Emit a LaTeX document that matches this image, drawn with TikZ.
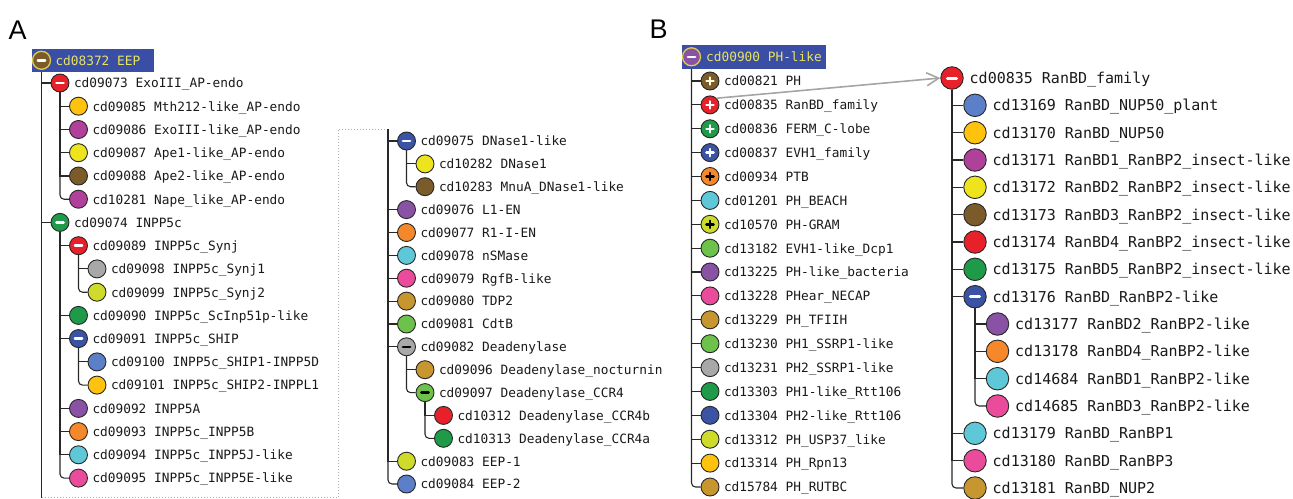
\documentclass[tikz,border=0pt]{standalone}
\usepackage{fontspec}
\setmainfont{Liberation Sans}
\newfontfamily\monof{DejaVu Sans Mono}
\usetikzlibrary{arrows.meta}
\pgfdeclarelayer{bg}
\pgfsetlayers{bg,main}
\definecolor{cRed}{RGB}{232,32,42}
\definecolor{cGold}{RGB}{255,194,14}
\definecolor{cMag}{RGB}{176,64,154}
\definecolor{cYel}{RGB}{238,228,30}
\definecolor{cBrn}{RGB}{123,91,42}
\definecolor{cGrn}{RGB}{30,154,72}
\definecolor{cGry}{RGB}{168,168,168}
\definecolor{cYG}{RGB}{206,219,42}
\definecolor{cBlu}{RGB}{58,83,164}
\definecolor{cLBl}{RGB}{91,127,200}
\definecolor{cPur}{RGB}{138,82,164}
\definecolor{cOra}{RGB}{245,136,42}
\definecolor{cCya}{RGB}{95,200,216}
\definecolor{cPnk}{RGB}{234,75,154}
\definecolor{cTan}{RGB}{200,150,46}
\definecolor{cLGr}{RGB}{108,194,74}
\definecolor{hdrBlue}{RGB}{58,78,165}
\definecolor{hdrText}{RGB}{232,228,96}
\definecolor{hdrRing}{RGB}{222,204,80}
\definecolor{lineC}{RGB}{40,40,40}
\definecolor{arrC}{RGB}{165,165,165}
\definecolor{dotC}{RGB}{175,175,175}
\tikzset{
  dA/.style={circle,draw=lineC,line width=0.9pt,minimum size=18pt,inner sep=0pt},
  dB/.style={circle,draw=lineC,line width=0.9pt,minimum size=22.5pt,inner sep=0pt},
  hdot/.style={circle,draw=hdrRing,line width=1.3pt,minimum size=18pt,inner sep=0pt},
  lA/.style={anchor=base west,inner sep=0pt,text=black!90,font=\monof\fontsize{12.8}{14}\selectfont},
  lB/.style={anchor=base west,inner sep=0pt,text=black!90,font=\monof\fontsize{15}{17}\selectfont},
  hlbl/.style={anchor=base west,inner sep=0pt,text=hdrText,font=\monof\fontsize{12.8}{14}\selectfont},
  hbox/.style={fill=hdrBlue,inner sep=0pt,anchor=north west},
  mw/.style={path picture={\draw[white,line width=2.6pt,line cap=round]
      ([xshift=-3.6pt]path picture bounding box.center)--([xshift=3.6pt]path picture bounding box.center);}},
  mk/.style={path picture={\draw[black,line width=2.6pt,line cap=round]
      ([xshift=-3.6pt]path picture bounding box.center)--([xshift=3.6pt]path picture bounding box.center);}},
  mwb/.style={path picture={\draw[white,line width=3pt,line cap=round]
      ([xshift=-4.6pt]path picture bounding box.center)--([xshift=4.6pt]path picture bounding box.center);}},
  pw/.style={path picture={\draw[white,line width=2.4pt,line cap=round]
      ([xshift=-3.6pt]path picture bounding box.center)--([xshift=3.6pt]path picture bounding box.center)
      ([yshift=-3.6pt]path picture bounding box.center)--([yshift=3.6pt]path picture bounding box.center);}},
  pc/.style={path picture={\draw[white!85!yellow,line width=2.4pt,line cap=round]
      ([xshift=-3.6pt]path picture bounding box.center)--([xshift=3.6pt]path picture bounding box.center)
      ([yshift=-3.6pt]path picture bounding box.center)--([yshift=3.6pt]path picture bounding box.center);}},
  pk/.style={path picture={\draw[black,line width=2.4pt,line cap=round]
      ([xshift=-3.6pt]path picture bounding box.center)--([xshift=3.6pt]path picture bounding box.center)
      ([yshift=-3.6pt]path picture bounding box.center)--([yshift=3.6pt]path picture bounding box.center);}},
  tl/.style={draw=lineC,line width=1.1pt},
  tlast/.style={draw=lineC,line width=1.1pt,rounded corners=4pt},
  dotframe/.style={draw=dotC,line width=1pt,dotted},
  conn/.style={draw=arrC,line width=1.6pt,-{Straight Barb[length=12pt,width=13pt,line width=1.6pt]}}
}
\newcommand\nA[6][]{\node[dA,fill=#3,#1] (#2) at (#4,#5) {};
  \node[lA] (#2t) at ([xshift=13.8pt,yshift=-4.8pt]#2.center) {#6};}
\newcommand\nB[6][]{\node[dB,fill=#3,#1] (#2) at (#4,#5) {};
  \node[lB] (#2t) at ([xshift=17.5pt,yshift=-5.5pt]#2.center) {#6};}
\begin{document}
\begin{tikzpicture}[x=1pt,y=-1pt]
\useasboundingbox (0,0) rectangle (1293,498);
% panel letters
\node[anchor=base west,inner sep=0pt,font=\fontsize{27}{30}\selectfont] (lblA) at (8.5,39.3) {A};
\node[anchor=base west,inner sep=0pt,font=\fontsize{27}{30}\selectfont] (lblB) at (649.5,38.3) {B};
% ===== Panel A header
\node[hbox,minimum width=122pt,minimum height=23.5pt] (hboxA) at (32,48.5) {};
\node[hdot,fill=cBrn,mw] (hA) at (41.5,60.3) {};
\node[hlbl] (hAt) at ([xshift=13.8pt,yshift=-4.8pt]hA.center) {cd08372 EEP};
% ===== Panel A left column
\nA[mw]{a09073}{cRed}{60}{83}{cd09073 ExoIII\_AP-endo}
\nA{a09085}{cGold}{78.5}{106.2}{cd09085 Mth212-like\_AP-endo}
\nA{a09086}{cMag}{78.5}{129.5}{cd09086 ExoIII-like\_AP-endo}
\nA{a09087}{cYel}{78.5}{152.7}{cd09087 Ape1-like\_AP-endo}
\nA{a09088}{cBrn}{78.5}{176}{cd09088 Ape2-like\_AP-endo}
\nA{a10281}{cMag}{78.5}{199.2}{cd10281 Nape\_like\_AP-endo}
\nA[mw]{a09074}{cGrn}{60}{222.4}{cd09074 INPP5c}
\nA[mw]{a09089}{cRed}{78.5}{245.7}{cd09089 INPP5c\_Synj}
\nA{a09098}{cGry}{97}{268.9}{cd09098 INPP5c\_Synj1}
\nA{a09099}{cYG}{97}{292.2}{cd09099 INPP5c\_Synj2}
\nA{a09090}{cGrn}{78.5}{315.4}{cd09090 INPP5c\_ScInp51p-like}
\nA[mw]{a09091}{cBlu}{78.5}{338.6}{cd09091 INPP5c\_SHIP}
\nA{a09100}{cLBl}{97}{361.9}{cd09100 INPP5c\_SHIP1-INPP5D}
\nA{a09101}{cGold}{97}{385.1}{cd09101 INPP5c\_SHIP2-INPPL1}
\nA{a09092}{cPur}{78.5}{408.4}{cd09092 INPP5A}
\nA{a09093}{cOra}{78.5}{431.6}{cd09093 INPP5c\_INPP5B}
\nA{a09094}{cCya}{78.5}{454.8}{cd09094 INPP5c\_INPP5J-like}
\nA{a09095}{cPnk}{78.5}{478.1}{cd09095 INPP5c\_INPP5E-like}
% ===== Panel A right column
\coordinate (Atop) at (388,129);
\coordinate (Acorner) at (338,129);
\coordinate (Acorner2) at (338,497.5);
\coordinate (Abot) at (41.5,497.5);
\nA[mw]{a09075}{cBlu}{406.5}{141}{cd09075 DNase1-like}
\nA{a10282}{cYel}{425}{163.9}{cd10282 DNase1}
\nA{a10283}{cBrn}{425}{186.7}{cd10283 MnuA\_DNase1-like}
\nA{a09076}{cPur}{406.5}{209.6}{cd09076 L1-EN}
\nA{a09077}{cOra}{406.5}{232.5}{cd09077 R1-I-EN}
\nA{a09078}{cCya}{406.5}{255.4}{cd09078 nSMase}
\nA{a09079}{cPnk}{406.5}{278.2}{cd09079 RgfB-like}
\nA{a09080}{cTan}{406.5}{301.1}{cd09080 TDP2}
\nA{a09081}{cLGr}{406.5}{324}{cd09081 CdtB}
\nA[mk]{a09082}{cGry}{406.5}{346.8}{cd09082 Deadenylase}
\nA{a09096}{cTan}{425}{369.7}{cd09096 Deadenylase\_nocturnin}
\nA[mk]{a09097}{cLGr}{425}{392.6}{cd09097 Deadenylase\_CCR4}
\nA{a10312}{cRed}{443.5}{415.4}{cd10312 Deadenylase\_CCR4b}
\nA{a10313}{cGrn}{443.5}{438.3}{cd10313 Deadenylase\_CCR4a}
\nA{a09083}{cYG}{406.5}{461.2}{cd09083 EEP-1}
\nA{a09084}{cLBl}{406.5}{484}{cd09084 EEP-2}
% ===== Panel B header
\node[hbox,minimum width=144pt,minimum height=23.5pt] (hboxB) at (682,45) {};
\node[hdot,fill=cPur,mw] (hB) at (691.5,56.8) {};
\node[hlbl] (hBt) at ([xshift=14.5pt,yshift=-4.8pt]hB.center) {cd00900 PH-like};
% ===== Panel B left column
\nA[pc]{b00821}{cBrn}{710}{81}{cd00821 PH}
\nA[pw]{b00835}{cRed}{710}{104.9}{cd00835 RanBD\_family}
\nA[pw]{b00836}{cGrn}{710}{128.8}{cd00836 FERM\_C-lobe}
\nA[pw]{b00837}{cBlu}{710}{152.6}{cd00837 EVH1\_family}
\nA[pk]{b00934}{cOra}{710}{176.5}{cd00934 PTB}
\nA{b01201}{cCya}{710}{200.4}{cd01201 PH\_BEACH}
\nA[pk]{b10570}{cYG}{710}{224.3}{cd10570 PH-GRAM}
\nA{b13182}{cLGr}{710}{248.2}{cd13182 EVH1-like\_Dcp1}
\nA{b13225}{cPur}{710}{272}{cd13225 PH-like\_bacteria}
\nA{b13228}{cPnk}{710}{295.9}{cd13228 PHear\_NECAP}
\nA{b13229}{cTan}{710}{319.8}{cd13229 PH\_TFIIH}
\nA{b13230}{cLGr}{710}{343.7}{cd13230 PH1\_SSRP1-like}
\nA{b13231}{cGry}{710}{367.6}{cd13231 PH2\_SSRP1-like}
\nA{b13303}{cGrn}{710}{391.4}{cd13303 PH1-like\_Rtt106}
\nA{b13304}{cBlu}{710}{415.3}{cd13304 PH2-like\_Rtt106}
\nA{b13312}{cYG}{710}{439.2}{cd13312 PH\_USP37\_like}
\nA{b13314}{cGold}{710}{463.1}{cd13314 PH\_Rpn13}
\nA{b15784}{cTan}{710}{487}{cd15784 PH\_RUTBC}
% ===== Panel B right tree
\nB[mwb]{r00835}{cRed}{952}{78}{cd00835 RanBD\_family}
\nB{r13169}{cLBl}{975}{105.3}{cd13169 RanBD\_NUP50\_plant}
\nB{r13170}{cGold}{975}{132.7}{cd13170 RanBD\_NUP50}
\nB{r13171}{cMag}{975}{160}{cd13171 RanBD1\_RanBP2\_insect-like}
\nB{r13172}{cYel}{975}{187.3}{cd13172 RanBD2\_RanBP2\_insect-like}
\nB{r13173}{cBrn}{975}{214.7}{cd13173 RanBD3\_RanBP2\_insect-like}
\nB{r13174}{cRed}{975}{242}{cd13174 RanBD4\_RanBP2\_insect-like}
\nB{r13175}{cGrn}{975}{269.3}{cd13175 RanBD5\_RanBP2\_insect-like}
\nB[mwb]{r13176}{cBlu}{975}{296.7}{cd13176 RanBD\_RanBP2-like}
\nB{r13177}{cPur}{997.5}{324}{cd13177 RanBD2\_RanBP2-like}
\nB{r13178}{cOra}{997.5}{351.3}{cd13178 RanBD4\_RanBP2-like}
\nB{r14684}{cCya}{997.5}{378.7}{cd14684 RanBD1\_RanBP2-like}
\nB{r14685}{cPnk}{997.5}{406}{cd14685 RanBD3\_RanBP2-like}
\nB{r13179}{cCya}{975}{433.3}{cd13179 RanBD\_RanBP1}
\nB{r13180}{cPnk}{975}{460.7}{cd13180 RanBD\_RanBP3}
\nB{r13181}{cTan}{975}{488}{cd13181 RanBD\_NUP2}
% ===== connectors
\begin{pgfonlayer}{bg}
% panel A main
\draw[tl] (hA.south) -- (Abot);
\draw[tl] (hA.south) |- (a09073.west);
\draw[tl] (hA.south) |- (a09074.west);
\draw[dotframe] (Abot) -- (Acorner2) -- (Acorner) -- (Atop);
\foreach \c in {a09085,a09086,a09087,a09088} \draw[tl] (a09073.south) |- (\c.west);
\draw[tlast] (a09073.south) |- (a10281.west);
\foreach \c in {a09089,a09090,a09091,a09092,a09093,a09094} \draw[tl] (a09074.south) |- (\c.west);
\draw[tlast] (a09074.south) |- (a09095.west);
\draw[tl] (a09089.south) |- (a09098.west);
\draw[tlast] (a09089.south) |- (a09099.west);
\draw[tl] (a09091.south) |- (a09100.west);
\draw[tlast] (a09091.south) |- (a09101.west);
% panel A right column
\foreach \c in {a09075,a09076,a09077,a09078,a09079,a09080,a09081,a09082,a09083} \draw[tl] (Atop) |- (\c.west);
\draw[tlast] (Atop) |- (a09084.west);
\draw[tl] (a09075.south) |- (a10282.west);
\draw[tlast] (a09075.south) |- (a10283.west);
\draw[tl] (a09082.south) |- (a09096.west);
\draw[tlast] (a09082.south) |- (a09097.west);
\draw[tl] (a09097.south) |- (a10312.west);
\draw[tlast] (a09097.south) |- (a10313.west);
% panel B left
\foreach \c in {b00821,b00835,b00836,b00837,b00934,b01201,b10570,b13182,b13225,b13228,b13229,b13230,b13231,b13303,b13304,b13312,b13314} \draw[tl] (hB.south) |- (\c.west);
\draw[tlast] (hB.south) |- (b15784.west);
% panel B right
\foreach \c in {r13169,r13170,r13171,r13172,r13173,r13174,r13175,r13176,r13179,r13180} \draw[tl] (r00835.south) |- (\c.west);
\draw[tlast] (r00835.south) |- (r13181.west);
\foreach \c in {r13177,r13178,r14684} \draw[tl] (r13176.south) |- (\c.west);
\draw[tlast] (r13176.south) |- (r14685.west);
\end{pgfonlayer}
% expansion arrow
\draw[conn] (b00835.north east) -- (r00835.west);
\end{tikzpicture}
\end{document}
